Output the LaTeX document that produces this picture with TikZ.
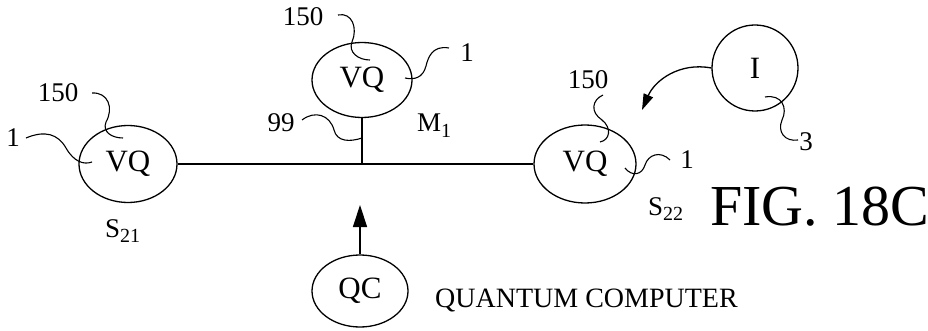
\documentclass[tikz,border=0pt]{standalone}
\usepackage{fontspec}
\setmainfont{Liberation Serif}
\usetikzlibrary{shapes.geometric,arrows.meta}
\tikzset{
  vq/.style={draw, ellipse, line width=1.3pt, inner sep=0pt, font=\fontsize{31}{31}\selectfont},
  lbl/.style={inner sep=0pt, font=\fontsize{27}{27}\selectfont},
  leader/.style={line width=1.1pt},
  wire/.style={line width=1.3pt},
}
\newcommand{\subtxt}[1]{\raisebox{-0.22em}{\fontsize{20}{20}\selectfont #1}}
\begin{document}
\begin{tikzpicture}[x=1pt,y=-1pt]
\useasboundingbox (0,0) rectangle (928,331);
% ellipses
\node[vq, minimum width=98pt, minimum height=77pt] (L) at (128,164) {VQ};
\node[vq, minimum width=100pt, minimum height=75pt] (M) at (362,80) {VQ};
\node[vq, minimum width=102pt, minimum height=78pt] (R) at (585,164) {VQ};
\node[vq, minimum width=96pt, minimum height=72pt] (QC) at (360,291) {QC};
\node[vq, circle, minimum size=86pt] (I) at (755,68) {I};
% labels
\node[lbl] (l150) at (58,93) {150};
\node[lbl] (l1) at (13,138) {1};
\node[lbl] (m150) at (303,17) {150};
\node[lbl] (m1) at (467,53) {1};
\node[lbl, anchor=base west] (mname) at (417,132) {M\subtxt{1}};
\node[lbl] (n99) at (281,123) {99};
\node[lbl] (r150) at (588,80) {150};
\node[lbl] (r1) at (687,160) {1};
\node[lbl] (n3) at (806,142) {3};
\node[lbl, anchor=base west] (s21) at (105,237) {S\subtxt{21}};
\node[lbl, anchor=base west] (s22) at (648,215) {S\subtxt{22}};
\node[inner sep=0pt, anchor=base west, font=\fontsize{28}{28}\selectfont] (qct) at (435,307) {QUANTUM COMPUTER};
\node[inner sep=0pt, anchor=base west, font=\fontsize{58}{58}\selectfont] (fig) at (710,225) {FIG. 18C};
% connectors
\coordinate (J) at (M.south |- L.east);
\draw[wire] (L.east) -- (R.west);
\draw[wire] (M.south) -- (J);
\coordinate (qtip) at (360,205);
\draw[wire, -{Triangle[length=22pt,width=14pt]}] (QC.north) -- (qtip);
\coordinate (itip) at (642,110);
\draw[wire, -{Triangle[length=16pt,width=10pt]}] (I.west) .. controls (680,62) and (655,80) .. (itip);
% leaders
\coordinate (e1) at (123,138);
\draw[leader] (92,93) .. controls (108,92) and (114,108) .. (106,122) .. controls (102,132) and (112,138) .. (e1);
\coordinate (e2) at (92,162);
\draw[leader] (l1.east) ++(6,0) .. controls (45,130) and (58,134) .. (66,148) .. controls (74,162) and (84,165) .. (e2);
\coordinate (e3) at (370,60);
\draw[leader] (338,15) .. controls (352,12) and (358,28) .. (352,42) .. controls (348,52) and (358,60) .. (e3);
\coordinate (e4) at (405,78);
\draw[leader] (449,48) .. controls (432,45) and (428,58) .. (426,66) .. controls (423,78) and (414,80) .. (e4);
\coordinate (e5) at (362,138);
\draw[leader] (302,120) .. controls (315,110) and (330,115) .. (334,130) .. controls (337,142) and (350,142) .. (e5);
\coordinate (e6) at (600,142);
\draw[leader] (603,95) .. controls (592,100) and (590,112) .. (602,120) .. controls (612,128) and (610,140) .. (e6);
\coordinate (e7) at (625,168);
\draw[leader] (670,160) .. controls (660,150) and (648,155) .. (645,165) .. controls (642,175) and (632,177) .. (e7);
\coordinate (e8) at (765,97);
\draw[leader] (e8) .. controls (782,94) and (788,108) .. (782,120) .. controls (777,132) and (785,142) .. (798,140);
\end{tikzpicture}
\end{document}
